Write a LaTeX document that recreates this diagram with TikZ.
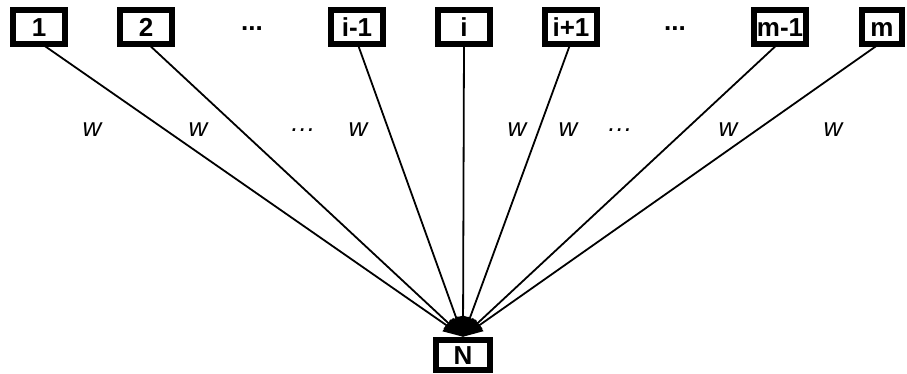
\documentclass[tikz,border=0pt]{standalone}
\usepackage{fontspec}
\setmainfont{Liberation Sans}
\usetikzlibrary{arrows.meta}
\begin{document}
\begin{tikzpicture}[x=1pt,y=-1pt,
  unit/.style={draw=black,line width=6.5pt,minimum width=52pt,minimum height=34pt,
    inner sep=0pt,text height=19pt,text depth=0pt,
    font=\fontsize{26}{26}\selectfont\bfseries},
  dots/.style={font=\fontsize{26}{26}\selectfont\bfseries},
  weight/.style={font=\fontsize{26}{26}\selectfont\itshape},
  link/.style={line width=1.8pt,-{Triangle[length=20pt,width=14pt]}}]
\useasboundingbox (0,0) rectangle (907,374);
% input units
\node[unit] (u1) at (39,27) {1};
\node[unit] (u2) at (146,27) {2};
\node[dots] (d1) at (252,29) {...};
\node[unit] (uim) at (357,27) {i-1};
\node[unit] (ui) at (464,27) {i};
\node[unit] (uip) at (571,27) {i+1};
\node[dots] (d2) at (675,29) {...};
\node[unit] (umm) at (780,27) {m-1};
\node[unit,minimum width=40pt] (um) at (882,27) {m};
% output unit
\node[unit,minimum width=54pt,minimum height=30pt] (N) at (463,355) {N};
% connections
\foreach \u in {u1,u2,uim,ui,uip,umm,um}
  \draw[link] ([yshift=-15pt]\u.center) -- (N.north);
% weights
\node[weight] (w1) at (92,130) {w};
\node[weight] (w2) at (198,130) {w};
\node[weight] (e1) at (303,130) {\dots};
\node[weight] (w3) at (358,130) {w};
\node[weight] (w4) at (517,130) {w};
\node[weight] (w5) at (568,130) {w};
\node[weight] (e2) at (620,130) {\dots};
\node[weight] (w6) at (728,130) {w};
\node[weight] (w7) at (833,130) {w};
\end{tikzpicture}
\end{document}
